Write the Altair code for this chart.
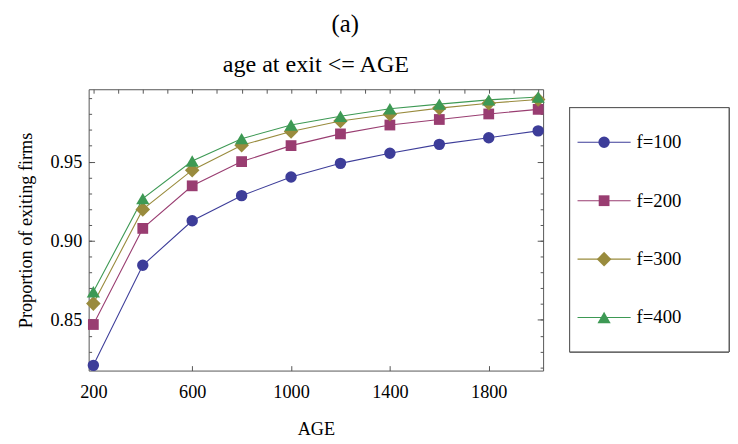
import altair as alt
import pandas as pd

# ---- data ----
ages = [200, 400, 600, 800, 1000, 1200, 1400, 1600, 1800, 2000]
f100 = [0.8213, 0.8845, 0.9126, 0.9285, 0.9403, 0.9489, 0.9553, 0.9609, 0.9651, 0.9694]
f200 = [0.8471, 0.9078, 0.9347, 0.9500, 0.9601, 0.9675, 0.9731, 0.9766, 0.9801, 0.9830]
f300 = [0.8603, 0.9198, 0.9446, 0.9603, 0.9690, 0.9756, 0.9799, 0.9838, 0.9869, 0.9892]
f400 = [0.8678, 0.9266, 0.9504, 0.9645, 0.9731, 0.9787, 0.9834, 0.9863, 0.9890, 0.9908]
series = ["f=100", "f=200", "f=300", "f=400"]
colors = ["#3D3D99", "#993D71", "#998B3D", "#3D9954"]
shapes = ["circle", "square", "diamond", "triangle-up"]
sizes = [135, 120, 220, 180]

x_labels = [200, 600, 1000, 1400, 1800]
x_minor = [200, 300, 400, 500, 600, 700, 800, 900, 1000, 1100, 1200, 1300,
           1400, 1500, 1600, 1700, 1800, 1900, 2000]
y_labels = [0.85, 0.90, 0.95]
y_minor = [0.82, 0.83, 0.84, 0.85, 0.86, 0.87, 0.88, 0.89, 0.90, 0.91, 0.92,
           0.93, 0.94, 0.95, 0.96, 0.97, 0.98, 0.99]

rows = []
for name, vals in zip(series, [f100, f200, f300, f400]):
    for a, v in zip(ages, vals):
        rows.append({"AGE": a, "value": v, "series": name})
df = pd.DataFrame(rows)

FONT = "Liberation Serif"
FRAME = "#555555"

xscale = alt.Scale(domain=[181, 2020], nice=False, zero=False)
yscale = alt.Scale(domain=[0.818, 0.9957], nice=False, zero=False)
cscale = alt.Scale(domain=series, range=colors)
sscale = alt.Scale(domain=series, range=shapes)


def size_by_series():
    rule = alt.when(alt.datum.series == series[0]).then(alt.value(sizes[0]))
    for s, z in zip(series[1:-1], sizes[1:-1]):
        rule = rule.when(alt.datum.series == s).then(alt.value(z))
    return rule.otherwise(alt.value(sizes[-1]))


def tick_axis(orient, values, size):
    return alt.Axis(orient=orient, values=values, labels=False, domain=False,
                    grid=False, title=None, tickSize={"expr": str(-size)},
                    tickColor=FRAME, tickWidth=1)


base = alt.Chart(df)

lines = base.mark_line(strokeWidth=1.1).encode(
    x=alt.X("AGE:Q", scale=xscale,
            axis=alt.Axis(orient="bottom", values=x_labels, format="d",
                          ticks=False, domain=False, grid=False,
                          labelPadding=12, title="AGE", titlePadding=19)),
    y=alt.Y("value:Q", scale=yscale,
            axis=alt.Axis(orient="left", values=y_labels, format=".2f",
                          ticks=False, domain=False, grid=False,
                          labelPadding=7, title="Proportion of exiting firms",
                          titlePadding=15)),
    color=alt.Color("series:N", scale=cscale, legend=None),
)

points = base.mark_point(filled=True, opacity=1).encode(
    x=alt.X("AGE:Q", scale=xscale, axis=tick_axis("bottom", x_labels, 5)),
    y=alt.Y("value:Q", scale=yscale, axis=tick_axis("left", y_minor, 3)),
    color=alt.Color("series:N", scale=cscale, legend=None),
    shape=alt.Shape("series:N", scale=sscale, legend=None),
    size=size_by_series(),
)

ghost1 = base.mark_point(opacity=0).encode(
    x=alt.X("AGE:Q", scale=xscale, axis=tick_axis("top", x_minor, 4)),
    y=alt.Y("value:Q", scale=yscale, axis=tick_axis("left", y_labels, 6)),
)
ghost2 = base.mark_point(opacity=0).encode(
    x=alt.X("AGE:Q", scale=xscale, axis=None),
    y=alt.Y("value:Q", scale=yscale, axis=tick_axis("right", y_minor, 3)),
)
ghost3 = base.mark_point(opacity=0).encode(
    x=alt.X("AGE:Q", scale=xscale, axis=None),
    y=alt.Y("value:Q", scale=yscale, axis=tick_axis("right", y_labels, 6)),
)

main = alt.layer(lines, points, ghost1, ghost2, ghost3).resolve_axis(
    x="independent", y="independent"
).properties(
    width=462, height=286,
    view=alt.ViewBackground(stroke=FRAME, strokeWidth=1, strokeOpacity=1),
    title=alt.TitleParams("age at exit <= AGE", fontSize=24.5, font=FONT,
                          fontWeight="normal", color="black", offset=12),
)

# ---- legend panel (same height as the plot, boxed entries) ----
leg_df = pd.DataFrame({"series": series})
ly = alt.Y("series:N", scale=alt.Scale(type="point", domain=series, padding=0.907),
           axis=None)
lbox = alt.Chart(leg_df).mark_rect(fill="white", stroke=FRAME, strokeWidth=1).encode(
    x=alt.value(0), x2=alt.value(162), y=alt.value(18.7), y2=alt.value(267),
)
lrule = alt.Chart(leg_df).mark_rule(strokeWidth=1.1).encode(
    x=alt.value(8), x2=alt.value(62), y=ly,
    color=alt.Color("series:N", scale=cscale, legend=None),
)
lpts = alt.Chart(leg_df).mark_point(filled=True, opacity=1).encode(
    x=alt.value(35), y=ly,
    color=alt.Color("series:N", scale=cscale, legend=None),
    shape=alt.Shape("series:N", scale=sscale, legend=None),
    size=size_by_series(),
)
ltxt = alt.Chart(leg_df).mark_text(align="left", baseline="middle", font=FONT,
                                   fontSize=19, color="black").encode(
    x=alt.value(68), y=ly, text="series:N",
)
legend = alt.layer(lbox, lrule, lpts, ltxt).properties(
    width=162, height=286,
    view=alt.ViewBackground(strokeOpacity=0),
)

chart = alt.hconcat(main, legend, spacing=23).properties(
    title=alt.TitleParams("(a)", fontSize=25, font=FONT, fontWeight="normal",
                          color="black", anchor="middle", dx=-28, offset=15),
    padding={"left": 8, "top": 0, "right": 0, "bottom": 0},
).configure_view(
    strokeOpacity=0
).configure_axis(
    labelFont=FONT, titleFont=FONT, labelFontSize=18.5, titleFontSize=18.5,
    labelColor="black", titleColor="black", titleFontWeight="normal",
).configure_title(
    font=FONT, fontWeight="normal", color="black"
)

chart.save("out.html", embed_options={"renderer": "svg", "actions": False})
